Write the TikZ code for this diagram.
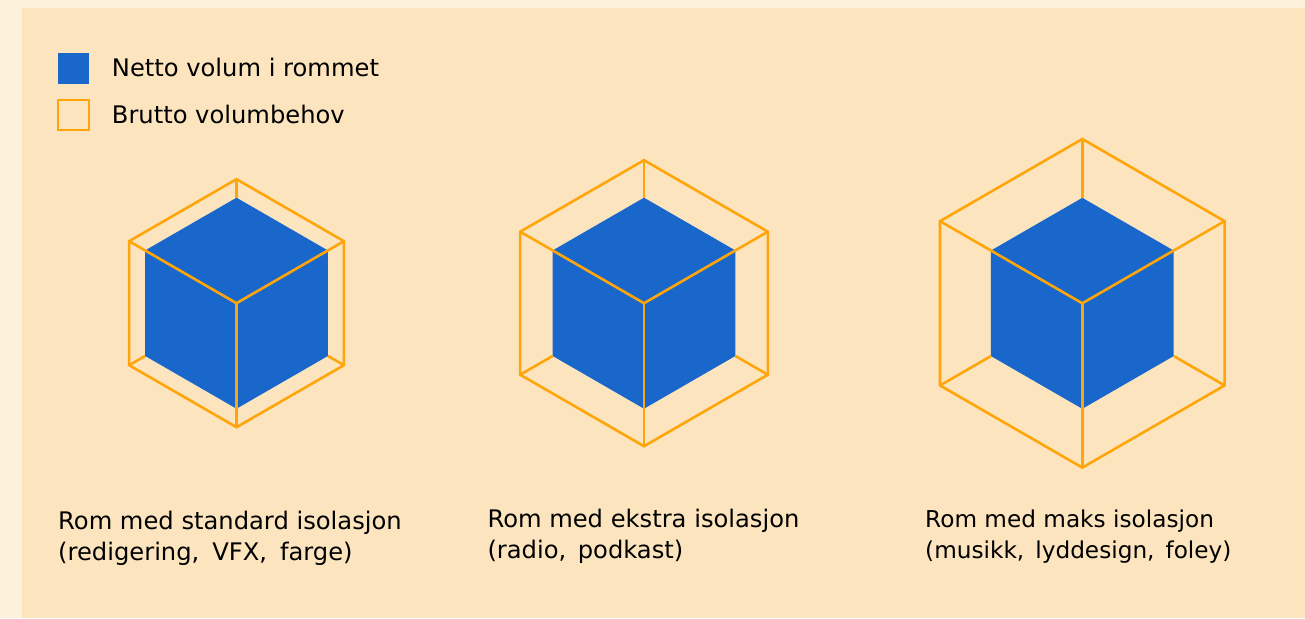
\documentclass[tikz,border=0pt]{standalone}
\usepackage{fontspec}
\setmainfont{DejaVu Sans}
\definecolor{outerbg}{HTML}{FDF1DC}
\definecolor{panelbg}{HTML}{FCE5BE}
\definecolor{netblue}{HTML}{1A67CB}
\definecolor{grossorange}{HTML}{FFA50A}
\tikzset{
  grossline/.style={draw=grossorange, line width=2.6pt, line join=miter},
  label/.style={anchor=base west, inner sep=0pt, font=\fontsize{24.2pt}{31pt}\selectfont, text=black},
  smalllabel/.style={label, font=\fontsize{23.2pt}{31pt}\selectfont},
}
% #1 = cx, #2 = cy, #3 = outer radius
\newcommand\isocube[3]{%
  \fill[netblue] (#1,{#2-105.5}) -- ({#1+91.4},{#2-52.75}) -- ({#1+91.4},{#2+52.75})
     -- (#1,{#2+105.5}) -- ({#1-91.4},{#2+52.75}) -- ({#1-91.4},{#2-52.75}) -- cycle;
  \draw[grossline] (#1,{#2-#3}) -- ({#1+0.866*#3},{#2-0.5*#3}) -- ({#1+0.866*#3},{#2+0.5*#3})
     -- (#1,{#2+#3}) -- ({#1-0.866*#3},{#2+0.5*#3}) -- ({#1-0.866*#3},{#2-0.5*#3}) -- cycle;
  \draw[grossline] ({#1-0.866*#3},{#2-0.5*#3}) -- (#1,#2) -- ({#1+0.866*#3},{#2-0.5*#3});
  \draw[grossline] (#1,#2) -- (#1,{#2+#3});
  \draw[grossline] (#1,{#2-#3}) -- (#1,{#2-105.5});
  \draw[grossline] ({#1-0.866*#3},{#2+0.5*#3}) -- ({#1-91.4},{#2+52.75});
  \draw[grossline] ({#1+0.866*#3},{#2+0.5*#3}) -- ({#1+91.4},{#2+52.75});
}
\begin{document}
\begin{tikzpicture}[x=1pt,y=-1pt]
  \useasboundingbox (0,0) rectangle (1305,618);
  \fill[outerbg] (0,0) rectangle (1305,618);
  \fill[panelbg] (22,8) rectangle (1305,618);
  % legend
  \fill[netblue] (57.5,53) rectangle (89.3,84.3);
  \draw[draw=grossorange, line width=2pt] (58.3,99.5) rectangle (88.5,129.5);
  \node[label] (l1) at (111.7,76) {Netto volum i rommet};
  \node[label] (l2) at (111.7,123.3) {Brutto volumbehov};
  % cubes
  \isocube{236.5}{303.2}{124}
  \isocube{644}{303.2}{143}
  \isocube{1082.3}{303.3}{164.3}
  % captions
  \node[label] (c1a) at (58,529.3) {Rom med standard isolasjon};
  \node[label] (c1b) at (58,560) {(redigering,\hspace{13pt}VFX,\hspace{13pt}farge)};
  \node[label] (c2a) at (487.3,527.3) {Rom med ekstra isolasjon};
  \node[label] (c2b) at (487.3,558.3) {(radio,\hspace{11.5pt}podkast)};
  \node[smalllabel] (c3a) at (925,527.3) {Rom med maks isolasjon};
  \node[smalllabel] (c3b) at (925,558) {(musikk,\hspace{11pt}lyddesign,\hspace{11pt}foley)};
\end{tikzpicture}
\end{document}
